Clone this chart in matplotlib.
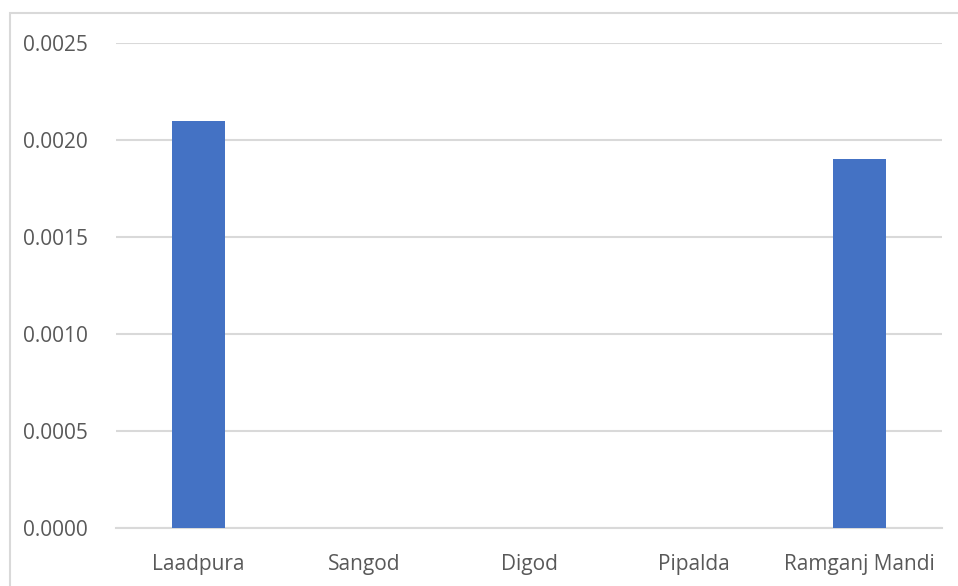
import matplotlib
matplotlib.use("Agg")
import matplotlib.pyplot as plt
from matplotlib.patches import Rectangle

categories = ["Laadpura", "Sangod", "Digod", "Pipalda", "Ramganj Mandi"]
values = [0.0021, 0.0, 0.0, 0.0, 0.0019]
yticks = [0.0, 0.0005, 0.0010, 0.0015, 0.0020, 0.0025]
ytick_labels = ["0.0000", "0.0005", "0.0010", "0.0015", "0.0020", "0.0025"]

W, H = 958, 586
fig = plt.figure(figsize=(W / 100, H / 100), dpi=100)
fig.patch.set_facecolor("white")

# outer chart border (partially cropped at right/bottom)
fig.add_artist(Rectangle((10 / W, -0.05), 1.0, 1 - 13 / H + 0.05,
                         transform=fig.transFigure, fill=False,
                         edgecolor="#d9d9d9", linewidth=1.5))

ax = fig.add_axes([116 / W, 1 - 528 / H, (942 - 116) / W, (528 - 43) / H])
x = range(len(categories))
ax.bar(x, values, width=0.32, color="#4472c4", zorder=3)
ax.set_xlim(-0.5, len(categories) - 0.5)
ax.set_ylim(0, 0.0025)
ax.set_yticks(yticks)
ax.set_yticklabels(ytick_labels)
ax.set_xticks(list(x))
ax.set_xticklabels(categories)
ax.grid(axis="y", color="#d9d9d9", linewidth=1.5, zorder=0)
for s in ["top", "right", "left"]:
    ax.spines[s].set_visible(False)
ax.spines["bottom"].set_color("#d9d9d9")
ax.spines["bottom"].set_linewidth(1.5)
ax.tick_params(axis="both", length=0, labelcolor="#595959", labelsize=15)
ax.tick_params(axis="y", pad=20)
ax.tick_params(axis="x", pad=19)
for lab in ax.get_xticklabels() + ax.get_yticklabels():
    lab.set_fontfamily("Open Sans")

fig.savefig("out.png", dpi=100)
